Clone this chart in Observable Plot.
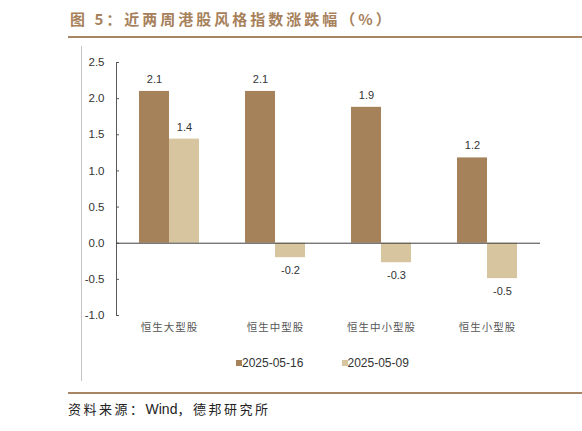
<!DOCTYPE html>
<html><head><meta charset="utf-8">
<script src="https://cdn.jsdelivr.net/npm/d3@7"></script>
<script src="https://cdn.jsdelivr.net/npm/@observablehq/plot@0.6"></script>
<style>
body{margin:0;width:582px;height:431px;position:relative;background:#fff;font-family:"Liberation Sans",Arial,sans-serif;overflow:hidden}
#title{position:absolute;left:70px;top:9px;line-height:20px;font-family:"Noto Sans CJK SC";font-weight:bold;font-size:15px;color:#a7815b;letter-spacing:3px;white-space:nowrap}
.hline{position:absolute;left:68px;width:514px;height:2.5px;background:#a98663}
#vline{position:absolute;left:80.5px;top:46px;width:1px;height:335px;background:#c4c4c4}
#chart{position:absolute;left:0;top:40px}
#legend{position:absolute;top:355px;left:0;font-size:12px;color:#333;line-height:16px}
.item{position:absolute;white-space:nowrap}
.sw{display:inline-block;width:6px;height:6px;margin-right:0;vertical-align:1px}
#source{position:absolute;left:68px;top:401px;line-height:16px;font-size:13px;color:#222;white-space:nowrap;font-family:"Noto Sans CJK SC"}
#source .cj{letter-spacing:2.5px}
#source .en{font-family:"Liberation Sans",Arial,sans-serif;font-size:14px}
g[aria-label="fx-axis tick label"] text{letter-spacing:1px}
</style></head>
<body>
<div id="title">图 5：近两周港股风格指数涨跌幅（%）</div>
<div class="hline" style="top:35.5px"></div>
<div id="vline"></div>
<div id="chart"></div>
<div id="legend"></div>
<div class="hline" style="top:391.5px"></div>
<div id="source"><span class="cj">资料来源：</span><span class="en">Wind</span><span class="cj">，德邦研究所</span></div>
<script>
const categories = ["恒生大型股", "恒生中型股", "恒生中小型股", "恒生小型股"];
const series = ["2025-05-16", "2025-05-09"];
const values0516 = [2.10, 2.10, 1.88, 1.18];
const values0509 = [1.44, -0.20, -0.27, -0.49];
const yTicks = [-1.0, -0.5, 0.0, 0.5, 1.0, 1.5, 2.0, 2.5];
const colors = ["#a5825a", "#d6c59e"];

const table = [];
categories.forEach((c, i) => {
  table.push({cat: c, series: series[0], value: values0516[i]});
  table.push({cat: c, series: series[1], value: values0509[i]});
});

const chart = Plot.plot({
  width: 582,
  height: 300,
  marginLeft: 114,
  marginRight: 41,
  marginTop: 22,
  marginBottom: 25,
  style: {fontFamily: "Liberation Sans, Arial, sans-serif", background: "transparent", overflow: "visible"},
  fx: {domain: categories, padding: 0, label: null},
  x: {domain: series, paddingInner: 0, paddingOuter: 0.76, axis: null},
  y: {domain: [-1, 2.5], label: null},
  color: {domain: series, range: colors},
  marks: [
    Plot.axisFx({anchor: "bottom", tickSize: 0, tickPadding: 8, fontSize: 10.5, label: null, fill: "#555", fontFamily: "Noto Sans CJK SC"}),
    Plot.axisY(yTicks, {anchor: "left", tickSize: 0, tickPadding: 12, tickFormat: d => d.toFixed(1), label: null, fontSize: 11.5, fill: "#333"}),
    Plot.axisY(yTicks, {anchor: "left", tickSize: -3, fill: "none", label: null, stroke: "#595959"}),
    Plot.frame({anchor: "left", facetAnchor: "left", stroke: "#595959"}),
    Plot.barY(table, {fx: "cat", x: "series", y: "value", fill: "series"}),
    Plot.ruleY([0], {stroke: "#404040"}),
    Plot.text(table.filter(d => d.value >= 0), {fx: "cat", x: "series", y: "value", text: d => d.value.toFixed(1), dy: -12, fontSize: 11, fill: "#333"}),
    Plot.text(table.filter(d => d.value < 0), {fx: "cat", x: "series", y: "value", text: d => d.value.toFixed(1), dy: 13, fontSize: 11, fill: "#333"})
  ]
});
document.getElementById("chart").appendChild(chart);

const legend = document.getElementById("legend");
const legendLeft = [236, 341.5];
series.forEach((s, i) => {
  const it = document.createElement("div");
  it.className = "item";
  it.style.left = legendLeft[i] + "px";
  it.innerHTML = `<span class="sw" style="background:${colors[i]}"></span>${s}`;
  legend.appendChild(it);
});
</script>
</body></html>
